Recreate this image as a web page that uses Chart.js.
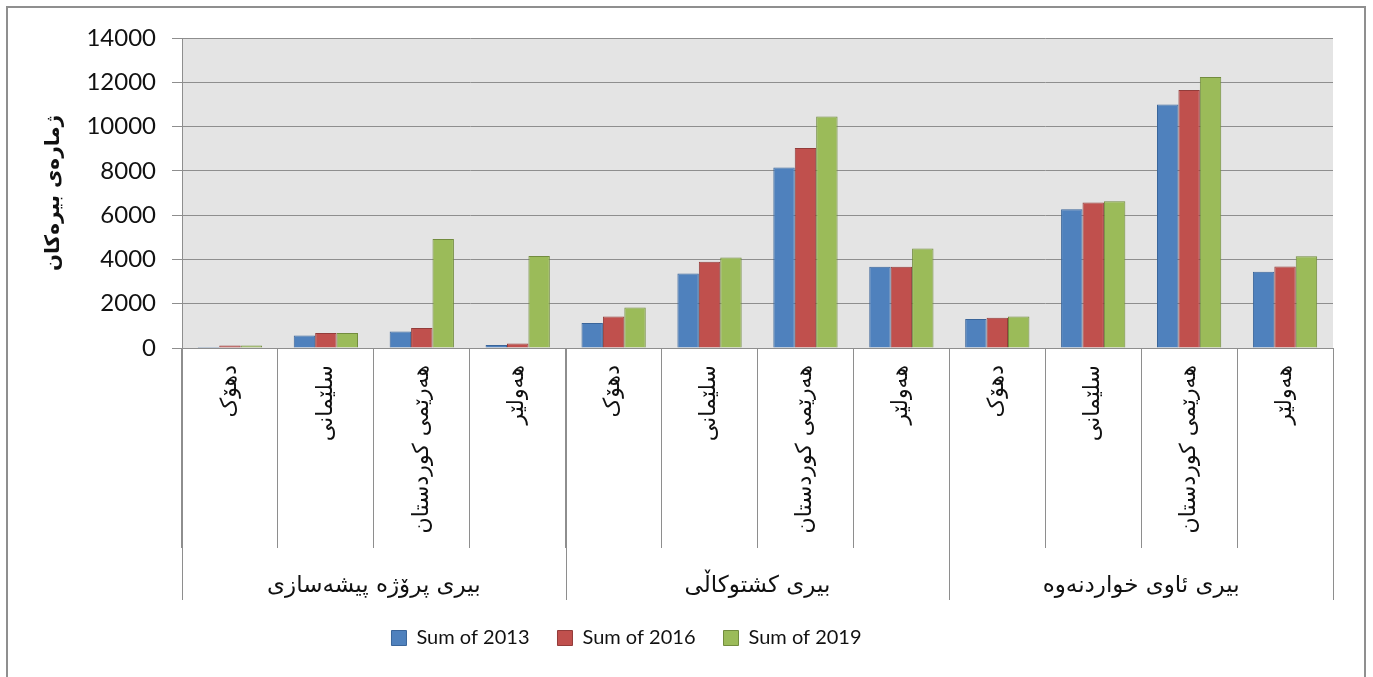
<!DOCTYPE html>
<html>
<head>
<meta charset="utf-8">
<script src="https://cdn.jsdelivr.net/npm/chart.js@4.4.1/dist/chart.umd.min.js"></script>
<style>
  html, body { margin: 0; padding: 0; background: #fff; overflow: hidden; }
  #chart { position: absolute; left: 0; top: 0; }
  #frame { position: absolute; left: 6px; top: 6px; width: 1356px; height: 720px; border: 2px solid #8f8f8f; pointer-events: none; }
</style>
</head>
<body>
<canvas id="chart" width="1373" height="677"></canvas>
<div id="frame"></div>
<script>
const groups = ['بیری پرۆژە پیشەسازی', 'بیری کشتوکاڵی', 'بیری ئاوی خواردنەوە'];
const cities = ['دهۆک', 'سلێمانی', 'هەرێمی کوردستان', 'هەولێر'];
const sum2013 = [50, 560, 740, 130, 1130, 3370, 8150, 3670, 1310, 6270, 11000, 3440];
const sum2016 = [110, 680, 900, 200, 1420, 3900, 9030, 3670, 1370, 6570, 11650, 3680];
const sum2019 = [110, 680, 4920, 4150, 1830, 4090, 10460, 4490, 1420, 6630, 12240, 4140];
const yMax = 14000;
const yStep = 2000;

const labels = [];
groups.forEach(() => cities.forEach(c => labels.push(c)));

const arabicFont = '"DejaVu Sans", sans-serif';
const latinFont = 'Lato, "Open Sans", sans-serif';
const lineGray = '#8e8e8e';

// grey plot background like the spreadsheet chart
const plotBg = {
  id: 'plotBg',
  beforeDraw(chart) {
    const { ctx, chartArea: a } = chart;
    ctx.save();
    ctx.fillStyle = '#e4e4e4';
    ctx.fillRect(a.left, a.top, a.right - a.left, a.bottom - a.top);
    ctx.restore();
  }
};

// legend sits a bit left of centre in the original
const legendShift = {
  id: 'legendShift',
  afterLayout(chart) {
    chart.legend.left -= 40;
    chart.legend.right -= 40;
  }
};

// second row of the category axis: group names and their dividers
const groupAxis = {
  id: 'groupAxis',
  afterDraw(chart) {
    const { ctx } = chart;
    const x = chart.scales.x;
    const cw = (x.right - x.left) / labels.length;
    const n = cities.length;
    ctx.save();
    ctx.strokeStyle = lineGray;
    ctx.lineWidth = 1;
    for (let g = 0; g <= groups.length; g++) {
      const idx = Math.min(g * n, labels.length - 1);
      let px = x.getPixelForValue(idx) + (g * n >= labels.length ? cw / 2 : -cw / 2);
      px = Math.round(px) + 0.5;
      ctx.beginPath();
      ctx.moveTo(px, x.top);
      ctx.lineTo(px, x.top + 252);
      ctx.stroke();
    }
    ctx.fillStyle = '#111';
    ctx.font = '23px ' + arabicFont;
    ctx.textAlign = 'center';
    ctx.textBaseline = 'middle';
    groups.forEach((name, g) => {
      const cx = (x.getPixelForValue(g * n) + x.getPixelForValue(g * n + n - 1)) / 2;
      ctx.fillText(name, cx, x.top + 238);
    });
    ctx.restore();
  }
};

new Chart(document.getElementById('chart'), {
  type: 'bar',
  data: {
    labels: labels,
    datasets: [
      { label: 'Sum of 2013', data: sum2013, backgroundColor: '#4f81bd', borderColor: '#3a659a', borderWidth: 1 },
      { label: 'Sum of 2016', data: sum2016, backgroundColor: '#c0504d', borderColor: '#933c3a', borderWidth: 1 },
      { label: 'Sum of 2019', data: sum2019, backgroundColor: '#9bbb59', borderColor: '#728c3e', borderWidth: 1 }
    ]
  },
  options: {
    responsive: false,
    animation: false,
    layout: { padding: { top: 38, right: 40, left: 0, bottom: 19 } },
    datasets: { bar: { categoryPercentage: 0.67, barPercentage: 1 } },
    plugins: {
      tooltip: { enabled: false },
      legend: {
        position: 'bottom',
        labels: {
          boxWidth: 15,
          boxHeight: 15,
          padding: 28,
          color: '#111',
          font: { family: latinFont, size: 20 }
        }
      }
    },
    scales: {
      x: {
        afterFit(s) { s.height = 252; },
        grid: { drawOnChartArea: false, color: lineGray, tickLength: 200, offset: true },
        border: { color: lineGray },
        ticks: {
          autoSkip: false,
          minRotation: 90,
          maxRotation: 90,
          padding: -183,
          color: '#111',
          font: { family: arabicFont, size: 22 }
        }
      },
      y: {
        min: 0,
        max: yMax,
        afterFit(s) { s.width = 182; },
        grid: { color: lineGray, tickLength: 10 },
        border: { color: lineGray },
        ticks: {
          stepSize: yStep,
          padding: 16,
          color: '#111',
          font: { family: latinFont, size: 24 },
          callback: v => String(v)
        },
        title: {
          display: true,
          text: 'ژمارەی بیرەکان',
          color: '#111',
          padding: { top: 42, bottom: 0 },
          font: { family: arabicFont, size: 20, weight: 'bold' }
        }
      }
    }
  },
  plugins: [plotBg, legendShift, groupAxis]
});
</script>
</body>
</html>
